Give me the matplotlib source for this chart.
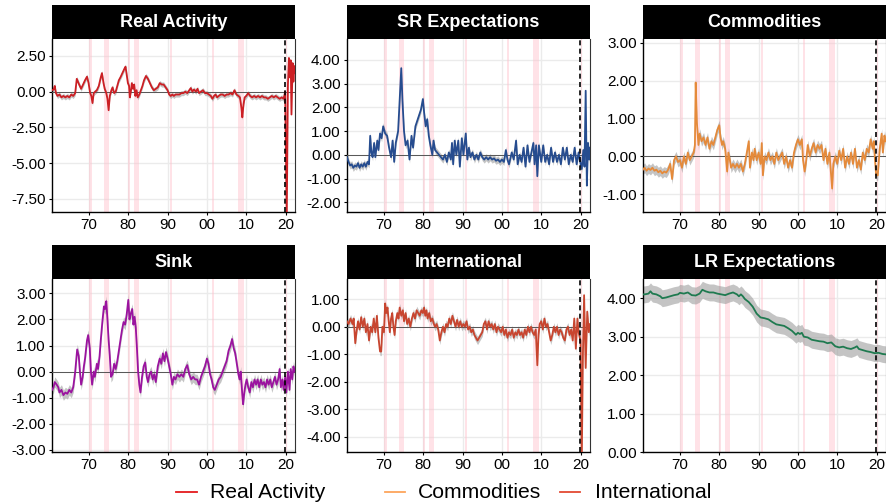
import numpy as np
import matplotlib
matplotlib.use("Agg")
import matplotlib.pyplot as plt
from matplotlib.lines import Line2D

plt.rcParams['font.family'] = ['Liberation Sans', 'DejaVu Sans']
plt.rcParams['axes.unicode_minus'] = False

# ---------------- data ----------------
rec_start = [1969.92, 1973.83, 1980.00, 1981.50, 1990.50, 2001.17, 2007.92, 2020.08]
rec_end   = [1970.83, 1975.17, 1980.50, 1982.83, 1991.17, 2001.83, 2009.42, 2020.25]
covid_line = 2019.9

x_ticks = [1970, 1980, 1990, 2000, 2010, 2020]
x_ticklabels = ["70", "80", "90", "00", "10", "20"]

ra_pts = [(1960.6,0.1),(1961.0,0.15),(1961.3,0.4),(1961.6,-0.1),(1962.0,-0.3),(1962.5,-0.2),(1963.0,-0.4),(1963.5,-0.3),
          (1964.0,-0.4),(1964.5,-0.3),(1965.0,-0.4),(1965.5,-0.2),(1966.0,-0.3),(1966.5,-0.1),(1966.9,0.9),(1967.2,0.7),
          (1967.5,0.5),(1968.0,0.2),(1968.5,0.5),(1969.0,0.8),(1969.5,1.05),(1969.9,0.6),(1970.3,-0.1),(1970.6,-0.3),
          (1970.9,-0.8),(1971.2,-0.1),(1971.6,0.0),(1972.0,0.1),(1972.5,0.4),(1973.0,1.0),(1973.3,1.3),(1973.7,0.6),
          (1974.0,0.2),(1974.4,-0.1),(1974.7,-0.5),(1975.0,-1.3),(1975.3,-0.3),(1975.7,0.1),(1976.0,0.3),(1976.4,-0.1),
          (1976.8,0.0),(1977.2,0.4),(1977.6,0.8),(1978.0,1.0),(1978.5,1.3),(1979.0,1.6),(1979.3,1.75),(1979.6,1.2),
          (1979.9,0.6),(1980.2,0.4),(1980.4,-0.4),(1980.7,0.1),(1980.9,0.6),(1981.2,0.2),(1981.5,0.5),(1981.8,-0.3),
          (1982.1,0.1),(1982.4,-0.4),(1982.8,-0.2),(1983.2,0.1),(1983.6,0.4),(1984.0,0.8),(1984.5,1.1),(1985.0,0.9),
          (1985.5,0.6),(1986.0,0.3),(1986.5,0.1),(1987.0,0.2),(1987.5,0.3),(1988.0,0.6),(1988.5,0.5),(1989.0,0.5),
          (1989.5,0.3),(1990.0,0.1),(1990.4,-0.2),(1990.8,-0.3),(1991.2,-0.2),(1991.6,-0.3),(1992.0,-0.2),(1992.5,-0.2),
          (1993.0,-0.2),(1993.5,-0.1),(1994.0,-0.1),(1994.5,0.0),(1995.0,-0.1),(1995.5,0.1),(1995.9,0.25),(1996.3,0.0),
          (1996.7,0.15),(1997.2,0.0),(1997.6,0.2),(1998.0,-0.1),(1998.5,0.0),(1999.0,0.1),(1999.5,-0.1),(2000.0,-0.1),
          (2000.5,-0.2),(2001.0,-0.3),(2001.4,-0.5),(2001.8,-0.3),(2002.2,-0.2),(2002.6,-0.4),(2003.0,-0.3),(2003.5,-0.2),
          (2004.0,-0.2),(2004.5,-0.3),(2005.0,-0.2),(2005.5,-0.2),(2006.0,-0.1),(2006.5,-0.2),(2007.0,0.1),(2007.5,-0.2),
          (2008.0,-0.3),(2008.4,-0.4),(2008.8,-1.2),(2009.0,-1.8),(2009.3,-0.9),(2009.6,-0.4),(2010.0,-0.3),(2010.5,-0.1),
          (2011.0,-0.3),(2011.5,-0.4),(2012.0,-0.3),(2012.5,-0.4),(2013.0,-0.3),(2013.5,-0.4),(2014.0,-0.3),(2014.5,-0.4),
          (2015.0,-0.4),(2015.5,-0.5),(2016.0,-0.4),(2016.5,-0.3),(2017.0,-0.4),(2017.5,-0.3),(2018.0,-0.4),(2018.5,-0.5),
          (2019.0,-0.4),(2019.5,-0.5),(2019.9,0.0),(2020.3,-9.0),(2020.6,0.5),(2020.85,2.36),(2021.1,1.0),(2021.3,2.2),
          (2021.5,-1.6),(2021.8,2.0),(2022.0,0.7),(2022.2,1.8),(2022.4,1.3)]

sr_pts = [(1960.6,-0.1),(1961.0,-0.3),(1961.4,-0.45),(1961.8,-0.4),(1962.2,-0.55),(1962.6,-0.45),(1963.0,-0.5),(1963.4,-0.35),
          (1963.8,-0.55),(1964.2,-0.4),(1964.6,-0.5),(1965.0,-0.35),(1965.4,-0.5),(1965.8,-0.3),(1966.2,-0.4),(1966.5,0.8),
          (1966.8,0.1),(1967.1,-0.1),(1967.5,0.5),(1967.8,-0.1),(1968.3,0.6),(1968.6,0.2),(1969.0,0.9),(1969.4,0.7),
          (1969.8,1.2),(1970.3,0.9),(1970.8,0.8),(1971.3,0.3),(1971.8,-0.1),(1972.2,0.6),(1972.6,-0.3),(1973.0,0.5),
          (1973.6,1.0),(1974.0,2.3),(1974.4,3.65),(1974.7,2.3),(1975.1,1.0),(1975.5,0.4),(1976.0,0.6),(1976.5,-0.2),
          (1977.0,0.8),(1977.4,0.3),(1978.0,1.2),(1978.6,1.5),(1979.4,1.9),(1979.9,2.35),(1980.2,1.8),(1980.6,1.2),
          (1981.0,1.5),(1981.4,0.8),(1981.8,0.4),(1982.3,0.0),(1982.6,0.6),(1983.0,0.2),(1983.5,0.1),(1984.0,0.0),
          (1984.5,-0.1),(1985.0,-0.2),(1985.5,0.0),(1986.0,-0.3),(1986.5,0.1),(1987.0,-0.2),(1987.3,0.5),(1987.6,-0.4),
          (1988.0,0.6),(1988.4,0.0),(1988.9,0.6),(1989.3,-0.5),(1989.8,0.7),(1990.2,0.0),(1990.8,0.9),(1991.2,-0.2),
          (1991.6,0.3),(1992.0,-0.1),(1992.5,0.1),(1993.0,-0.2),(1993.5,0.0),(1994.0,-0.2),(1994.5,0.1),(1995.0,-0.1),
          (1995.5,-0.2),(1996.0,-0.1),(1996.5,-0.2),(1997.0,-0.1),(1997.5,-0.2),(1998.0,-0.15),(1998.5,-0.25),(1999.0,-0.2),
          (1999.5,-0.3),(2000.0,-0.2),(2000.5,-0.3),(2001.0,0.2),(2001.4,-0.2),(2001.8,-0.4),(2002.5,0.1),(2003.0,-0.2),
          (2003.6,0.6),(2004.0,-0.4),(2004.5,0.0),(2005.0,-0.3),(2005.5,0.3),(2006.0,-0.5),(2006.5,0.4),(2007.0,-0.3),
          (2007.5,0.1),(2008.0,0.5),(2008.3,-0.4),(2008.7,0.4),(2009.0,-0.9),(2009.4,0.4),(2010.0,-0.3),(2010.5,0.4),
          (2011.0,-0.3),(2011.5,0.0),(2012.0,-0.4),(2012.5,0.3),(2013.0,-0.3),(2013.5,0.1),(2014.0,-0.3),(2014.5,0.0),
          (2015.0,-0.4),(2015.5,0.3),(2016.0,-0.2),(2016.5,0.3),(2017.0,-0.4),(2017.5,0.0),(2018.0,-0.3),(2018.5,0.3),
          (2019.0,-0.4),(2019.5,0.1),(2019.9,-0.3),(2020.3,-0.6),(2020.7,0.2),(2021.0,-0.5),(2021.3,2.7),(2021.6,-1.3),
          (2021.9,0.5),(2022.2,-0.2),(2022.4,0.3)]

comm_pts = [(1960.6,-0.35),(1961.0,-0.3),(1961.5,-0.38),(1962.0,-0.32),(1962.5,-0.36),(1963.0,-0.3),(1963.5,-0.38),
            (1964.0,-0.35),(1964.5,-0.42),(1965.0,-0.38),(1965.5,-0.45),(1966.0,-0.4),(1966.5,-0.43),(1967.0,-0.35),
            (1967.5,-0.2),(1968.0,-0.6),(1968.5,-0.1),(1969.0,0.0),(1969.5,-0.15),(1970.0,-0.1),(1970.5,-0.3),(1971.0,0.0),
            (1971.5,-0.2),(1972.0,0.1),(1972.5,-0.1),(1973.0,0.0),(1973.5,0.1),(1973.8,0.3),(1974.0,1.95),(1974.3,0.9),
            (1974.7,0.3),(1975.0,0.6),(1975.5,0.4),(1976.0,0.5),(1976.5,0.3),(1977.0,0.5),(1977.5,0.2),(1978.0,0.4),
            (1978.5,0.3),(1979.0,0.5),(1979.5,0.7),(1980.0,0.82),(1980.3,0.5),(1980.7,0.3),(1981.0,0.4),(1981.5,0.2),
            (1982.0,-0.4),(1982.3,0.1),(1982.7,-0.1),(1983.0,-0.3),(1983.5,-0.2),(1984.0,-0.3),(1984.5,-0.2),(1985.0,-0.3),
            (1985.5,-0.2),(1986.0,-0.4),(1986.5,-0.2),(1987.0,0.1),(1987.5,0.4),(1987.8,-0.3),(1988.3,0.1),(1988.7,-0.1),
            (1989.0,0.2),(1989.5,-0.1),(1990.0,0.1),(1990.5,-0.2),(1990.8,0.35),(1991.1,-0.5),(1991.5,0.0),(1992.0,-0.1),
            (1992.5,0.1),(1993.0,-0.1),(1993.5,0.0),(1994.0,-0.2),(1994.5,0.1),(1995.0,-0.1),(1995.5,0.0),(1996.0,0.1),
            (1996.5,-0.2),(1997.0,0.0),(1997.5,-0.3),(1998.0,-0.1),(1998.5,-0.3),(1999.0,0.1),(1999.5,0.3),(2000.0,0.45),
            (2000.5,0.3),(2001.0,0.45),(2001.3,-0.1),(2001.7,-0.4),(2002.0,-0.2),(2002.5,0.3),(2003.0,0.0),(2003.5,0.2),
            (2004.0,0.35),(2004.5,0.1),(2005.0,0.3),(2005.5,0.2),(2006.0,0.3),(2006.5,-0.1),(2007.0,0.2),(2007.5,-0.2),
            (2008.0,0.1),(2008.3,-0.3),(2008.7,-0.85),(2009.0,-0.2),(2009.5,0.0),(2010.0,-0.2),(2010.5,0.15),(2011.0,-0.1),
            (2011.5,0.2),(2012.0,-0.3),(2012.5,0.0),(2013.0,-0.2),(2013.5,0.1),(2014.0,-0.2),(2014.5,0.2),(2015.0,-0.3),
            (2015.5,-0.1),(2016.0,-0.35),(2016.5,0.1),(2017.0,-0.1),(2017.5,0.2),(2018.0,0.1),(2018.5,0.45),(2019.0,0.2),
            (2019.3,0.4),(2019.6,-0.1),(2019.9,-0.5),(2020.3,-0.5),(2020.8,0.2),(2021.3,0.6),(2021.6,0.1),(2022.0,0.55),
            (2022.3,0.4)]

sink_pts = [(1960.6,-0.7),(1961.0,-0.6),(1961.3,-0.4),(1961.8,-0.5),(1962.2,-0.6),(1962.5,-0.8),(1963.0,-0.7),(1963.5,-0.9),
            (1964.0,-0.8),(1964.5,-0.85),(1965.0,-0.7),(1965.5,-0.8),(1966.0,-0.6),(1966.5,0.0),(1967.0,0.85),(1967.4,0.6),
            (1967.7,0.0),(1968.0,-0.5),(1968.4,-0.2),(1968.7,0.2),(1969.0,0.5),(1969.5,1.2),(1969.8,1.4),(1970.2,0.9),
            (1970.5,0.0),(1970.8,-0.5),(1971.2,0.0),(1971.5,-0.2),(1972.0,0.3),(1972.3,0.1),(1972.7,0.6),(1973.0,1.2),
            (1973.4,1.9),(1973.8,2.5),(1974.1,2.4),(1974.4,2.7),(1974.7,2.0),(1975.0,1.2),(1975.3,0.6),(1975.6,-0.2),
            (1976.0,-0.1),(1976.4,0.3),(1976.8,0.1),(1977.2,0.4),(1977.6,0.8),(1978.0,1.2),(1978.4,1.6),(1978.8,1.9),
            (1979.2,1.8),(1979.6,2.2),(1980.0,2.75),(1980.3,2.0),(1980.6,2.2),(1981.0,2.4),(1981.3,1.8),(1981.6,2.1),
            (1981.9,1.7),(1982.2,0.9),(1982.5,0.0),(1982.8,-0.5),(1983.1,-0.8),(1983.5,-0.2),(1983.9,0.2),(1984.3,0.35),
            (1984.7,-0.2),(1985.0,-0.4),(1985.4,-0.1),(1985.8,0.0),(1986.2,-0.3),(1986.6,-0.1),(1987.0,-0.4),(1987.5,0.2),
            (1988.0,0.5),(1988.4,0.3),(1988.8,0.7),(1989.2,0.4),(1989.6,0.75),(1990.0,0.5),(1990.4,0.2),(1990.8,-0.1),
            (1991.2,-0.5),(1991.6,-0.2),(1992.0,-0.3),(1992.5,-0.1),(1993.0,-0.2),(1993.5,-0.1),(1994.0,-0.2),(1994.5,0.1),
            (1995.0,0.25),(1995.5,-0.1),(1996.0,-0.3),(1996.5,-0.2),(1997.0,-0.3),(1997.5,-0.3),(1998.0,-0.5),(1998.5,-0.2),
            (1999.0,0.0),(1999.5,0.2),(2000.0,0.5),(2000.4,0.3),(2000.8,-0.1),(2001.2,-0.3),(2001.6,-0.6),(2002.0,-0.7),
            (2002.5,-0.5),(2003.0,-0.3),(2003.5,-0.2),(2004.0,0.0),(2004.5,0.2),(2005.0,0.4),(2005.5,0.8),(2006.0,1.0),
            (2006.4,1.25),(2006.8,0.9),(2007.2,0.7),(2007.6,0.3),(2008.0,-0.1),(2008.3,-0.3),(2008.6,0.0),(2009.0,-0.9),
            (2009.2,-1.25),(2009.5,-0.8),(2009.8,-0.5),(2010.1,-0.3),(2010.5,-0.6),(2010.9,-0.8),(2011.3,-0.4),(2011.7,-0.6),
            (2012.1,-0.3),(2012.5,-0.5),(2012.9,-0.3),(2013.3,-0.6),(2013.7,-0.3),(2014.1,-0.5),(2014.5,-0.4),(2014.9,-0.6),
            (2015.3,-0.3),(2015.7,-0.5),(2016.1,-0.3),(2016.5,-0.6),(2016.9,-0.4),(2017.3,-0.2),(2017.7,-0.5),(2018.1,-0.3),
            (2018.5,0.1),(2018.8,-0.6),(2019.2,-0.3),(2019.5,-0.7),(2019.9,-0.2),(2020.2,-0.8),(2020.6,0.0),(2021.0,-0.7),
            (2021.3,0.1),(2021.7,-0.3),(2022.0,0.2),(2022.3,0.0)]

intl_pts = [(1960.6,0.2),(1961.0,0.1),(1961.5,0.3),(1962.0,0.1),(1962.3,0.3),(1962.7,-0.6),(1963.0,-0.2),(1963.4,0.2),
            (1963.8,-0.1),(1964.2,0.35),(1964.6,0.0),(1965.0,0.3),(1965.4,-0.2),(1965.8,0.1),(1966.2,-0.5),(1966.6,0.0),
            (1967.0,-0.2),(1967.4,0.3),(1967.8,-0.2),(1968.2,0.4),(1968.6,-0.4),(1969.0,-0.9),(1969.3,-0.9),(1969.6,0.0),
            (1970.0,-0.2),(1970.3,0.85),(1970.6,0.5),(1970.9,0.7),(1971.2,0.2),(1971.5,-0.2),(1971.8,0.3),(1972.1,0.5),
            (1972.4,0.0),(1972.7,-0.3),(1973.0,0.2),(1973.4,0.5),(1973.7,0.3),(1974.0,0.7),(1974.4,0.4),(1974.8,0.6),
            (1975.1,0.2),(1975.5,0.5),(1975.9,0.1),(1976.3,0.3),(1976.7,0.0),(1977.1,0.3),(1977.5,0.5),(1977.9,0.3),
            (1978.3,0.6),(1978.7,0.5),(1979.1,0.4),(1979.5,0.6),(1979.9,0.5),(1980.2,0.7),(1980.5,0.4),(1980.8,0.6),
            (1981.1,0.3),(1981.5,0.5),(1981.9,0.2),(1982.3,0.3),(1982.7,0.1),(1983.0,0.0),(1983.4,0.1),(1983.8,-0.1),
            (1984.2,-0.5),(1984.6,-0.2),(1985.0,0.0),(1985.4,-0.2),(1985.8,0.1),(1986.2,0.0),(1986.6,0.3),(1987.0,0.1),
            (1987.4,0.4),(1987.8,0.2),(1988.2,0.0),(1988.6,0.25),(1989.0,0.0),(1989.4,0.2),(1989.8,0.0),(1990.2,0.1),
            (1990.6,0.0),(1991.0,0.2),(1991.4,-0.1),(1991.8,0.0),(1992.2,-0.2),(1992.6,-0.1),(1993.0,-0.3),(1993.4,-0.4),
            (1993.8,-0.5),(1994.2,-0.4),(1994.6,-0.3),(1995.0,-0.2),(1995.4,0.1),(1995.8,0.2),(1996.2,-0.1),(1996.6,0.2),
            (1997.0,0.0),(1997.4,0.1),(1997.8,-0.1),(1998.2,0.1),(1998.6,-0.2),(1999.0,0.0),(1999.4,-0.1),(1999.8,-0.2),
            (2000.2,0.0),(2000.6,-0.3),(2001.0,-0.1),(2001.4,-0.4),(2001.8,-0.2),(2002.2,-0.3),(2002.6,-0.1),(2003.0,-0.4),
            (2003.4,-0.2),(2003.8,-0.3),(2004.2,-0.1),(2004.6,-0.3),(2005.0,-0.2),(2005.4,-0.4),(2005.8,-0.1),(2006.2,-0.3),
            (2006.6,0.0),(2007.0,-0.2),(2007.4,0.0),(2007.8,-0.2),(2008.2,-0.3),(2008.6,-0.1),(2009.0,-1.4),(2009.3,-0.3),
            (2009.6,0.1),(2010.0,0.2),(2010.4,-0.1),(2010.8,0.3),(2011.2,0.0),(2011.6,0.1),(2012.0,-0.2),(2012.4,-0.5),
            (2012.8,-0.3),(2013.2,0.0),(2013.6,-0.2),(2014.0,0.0),(2014.4,-0.3),(2014.8,-0.1),(2015.2,-0.2),(2015.6,-0.4),
            (2016.0,-0.5),(2016.4,-0.1),(2016.8,0.0),(2017.2,-0.3),(2017.6,-0.1),(2018.0,-0.5),(2018.4,0.3),(2018.8,-0.8),
            (2019.2,0.3),(2019.5,-0.2),(2019.8,-0.4),(2020.0,-0.5),(2020.3,-5.0),(2020.6,-1.0),(2020.9,1.15),(2021.3,-1.5),
            (2021.7,0.55),(2022.1,-0.2),(2022.4,0.1)]

lr_pts = [(1960.6,4.1),(1961.0,4.1),(1962.0,4.12),(1962.5,4.18),(1963.0,4.12),(1964.0,4.1),(1965.0,4.05),(1965.5,4.0),
          (1966.5,4.02),(1967.5,4.05),(1968.5,4.08),(1969.5,4.1),(1970.0,4.14),(1971.0,4.12),(1972.0,4.15),(1973.0,4.08),
          (1974.0,4.07),(1975.0,4.12),(1975.7,4.22),(1976.5,4.18),(1977.5,4.15),(1978.5,4.15),(1979.5,4.12),(1980.5,4.1),
          (1981.5,4.08),(1982.5,4.12),(1983.5,4.15),(1984.5,4.1),(1985.0,4.05),(1985.5,4.1),(1986.0,4.05),(1986.5,3.98),
          (1987.5,3.9),(1988.5,3.78),(1989.5,3.6),(1990.5,3.5),(1991.5,3.48),(1992.5,3.45),(1993.5,3.38),(1994.5,3.32),
          (1995.5,3.3),(1996.5,3.28),(1997.5,3.22),(1998.5,3.15),(1999.5,3.05),(2000.0,3.1),(2000.5,3.07),(2001.0,3.1),
          (2001.5,3.0),(2002.5,2.98),(2003.5,2.92),(2004.5,2.9),(2005.5,2.88),(2006.5,2.87),(2007.5,2.83),(2008.5,2.85),
          (2009.5,2.75),(2010.5,2.72),(2011.5,2.74),(2012.5,2.7),(2013.5,2.68),(2014.5,2.72),(2015.0,2.75),(2015.5,2.68),
          (2016.5,2.65),(2017.5,2.62),(2018.5,2.6),(2019.5,2.57),(2020.5,2.58),(2021.5,2.55),(2022.3,2.54)]

names = ["Real Activity", "SR Expectations", "Commodities", "Sink", "International", "LR Expectations"]
series = [ra_pts, sr_pts, comm_pts, sink_pts, intl_pts, lr_pts]
band_hw = [0.18, 0.15, 0.13, 0.2, 0.15, 0.22]
colors = ["#CC1F24", "#264C8F", "#E58A3A", "#9B139F", "#C8452F", "#1F7A50"]
ylims = [(-8.43, 3.69), (-2.41, 4.88), (-1.47, 3.10), (-3.08, 3.55), (-4.56, 1.74), (0.0, 4.50)]
yticks = [[-7.5, -5.0, -2.5, 0.0, 2.5], [-2, -1, 0, 1, 2, 3, 4], [-1, 0, 1, 2, 3],
          [-3, -2, -1, 0, 1, 2, 3], [-4, -3, -2, -1, 0, 1], [0, 1, 2, 3, 4]]

# ---------------- layout ----------------
W, H = 887, 504
fig = plt.figure(figsize=(W / 100, H / 100), dpi=100)

def px_axes(l, t, w, h):
    return fig.add_axes([l / W, 1 - (t + h) / H, w / W, h / H])

col_left = [52, 347, 643]
panel_w = 243
row_strip_top = [5, 245]
strip_h = 34
plot_h = 173
xlim = (1960.6, 2022.4)

for i, name in enumerate(names):
    r, c = divmod(i, 3)
    left = col_left[c]
    top = row_strip_top[r]
    # strip
    sax = px_axes(left, top, panel_w, strip_h)
    sax.set_facecolor("black")
    sax.set_xticks([]); sax.set_yticks([])
    for s in sax.spines.values():
        s.set_visible(False)
    sax.text(0.5, 0.48, name, color="white", fontsize=13, fontweight="bold",
             ha="center", va="center", transform=sax.transAxes)
    # panel
    ax = px_axes(left, top + strip_h, panel_w, plot_h)
    t = np.array([p[0] for p in series[i]])
    v = np.array([p[1] for p in series[i]])
    ax.set_xlim(*xlim)
    ax.set_ylim(*ylims[i])
    ax.set_axisbelow(True)
    ax.grid(True, color="#EBEBEB", linewidth=1.0)
    for a, b in zip(rec_start, rec_end):
        ax.axvspan(a, b, color="#FFC0CB", alpha=0.45, linewidth=0, zorder=1)
    ax.fill_between(t, v - band_hw[i], v + band_hw[i], color="#9E9E9E", alpha=0.6,
                    linewidth=0, zorder=2)
    ax.axhline(0, color="#555555", linewidth=0.7, zorder=3)
    ax.plot(t, v, color=colors[i], linewidth=1.3, zorder=4)
    ax.axvline(covid_line, color="black", linewidth=1.2, dashes=(3, 2), zorder=5)
    ax.set_xticks(x_ticks)
    ax.set_xticklabels(x_ticklabels)
    ax.set_yticks(yticks[i])
    ax.set_yticklabels([f"{y:.2f}" for y in yticks[i]])
    ax.tick_params(axis="both", labelsize=11, length=2.5, width=0.8, color="black",
                   labelcolor="black", pad=2)
    for s in ["left", "bottom"]:
        ax.spines[s].set_linewidth(1.0)
        ax.spines[s].set_color("black")
    ax.spines["right"].set_linewidth(0.8)
    ax.spines["right"].set_color("#333333")
    ax.spines["top"].set_visible(False)

# ---------------- legend (first row visible) ----------------
leg_items = [("Real Activity", "#E41A1C", 176, 197, 210),
             ("Commodities", "#FDA55C", 385, 405, 418),
             ("International", "#E34A33", 560, 580, 595)]
ly = 492
for lab, col, x0, x1, xt in leg_items:
    fig.add_artist(Line2D([x0 / W, x1 / W], [1 - ly / H, 1 - ly / H], color=col,
                          linewidth=1.3, transform=fig.transFigure))
    fig.text(xt / W, 1 - 498 / H, lab, fontsize=15.2, ha="left", va="baseline", color="black")

fig.savefig("out.png", dpi=100)
